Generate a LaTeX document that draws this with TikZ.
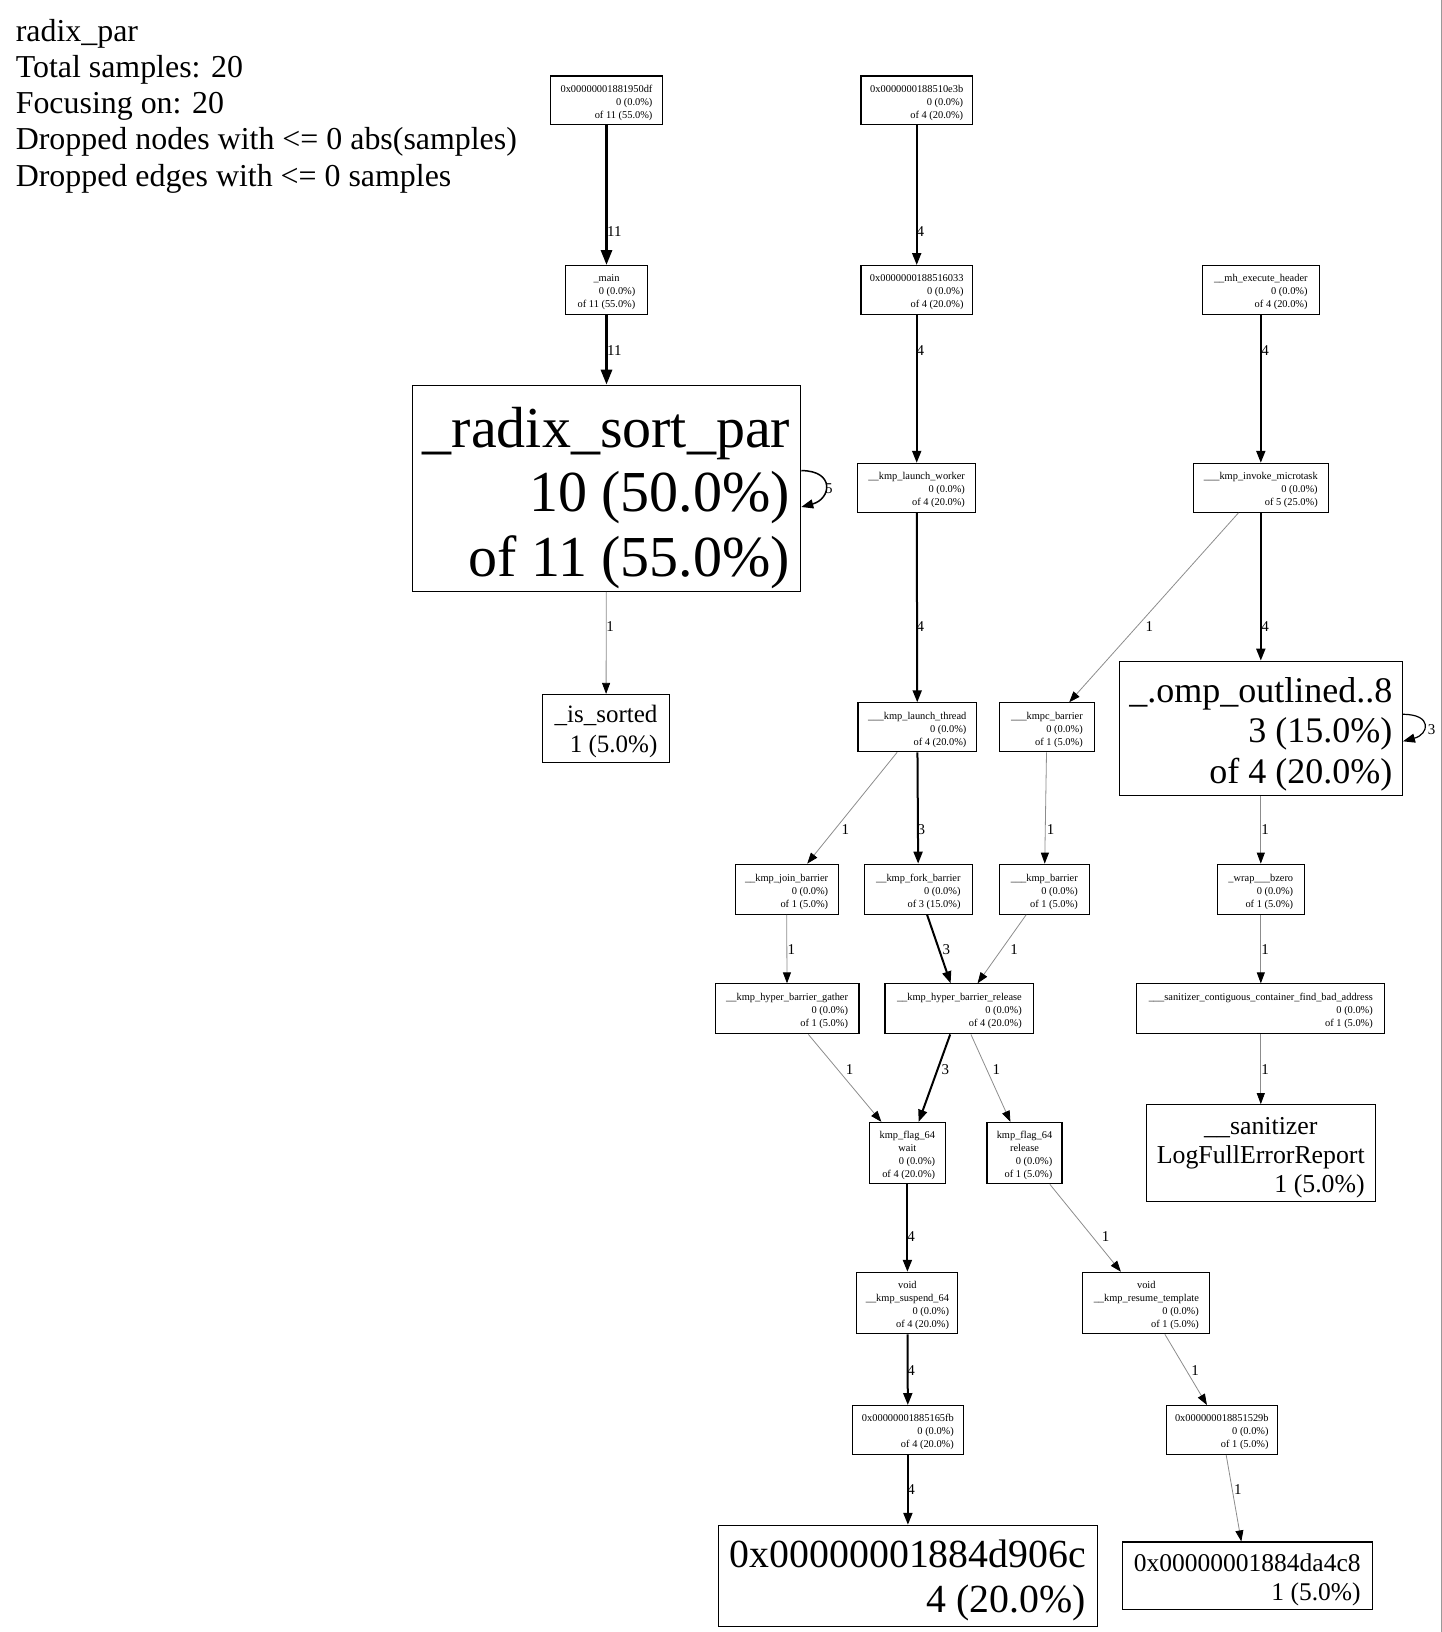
\documentclass[tikz,border=0pt]{standalone}
\usepackage{fontspec}
\setmainfont{Liberation Serif}
\usetikzlibrary{arrows.meta}

\newcommand\fsz[2]{\fontsize{#1}{#2}\selectfont}
\newcommand\nm[1]{\multicolumn{1}{@{}c@{}}{#1}}
% function label: right-aligned lines, lowered by the optional amount
\newcommand\lbl[2][4.7pt]{\raisebox{-#1}[0pt][0pt]{\begin{tabular}{@{}r@{}}#2\end{tabular}}}

\tikzset{
  fn/.style={draw, line width=1.1pt, inner sep=0pt, align=center},
  sm/.style={fn, font=\fsz{10.4}{13}},
  heavy/.style={draw=black, line width=3pt, -{Triangle[length=15pt,width=11pt]}},
  mid/.style={draw=black, line width=2pt, -{Triangle[length=12pt,width=9pt]}},
  light/.style={draw=black!45, line width=0.8pt, -{Triangle[length=11pt,width=8pt,color=black,fill=black]}},
  elab/.style={font=\fsz{15}{17}, inner sep=0pt},
  hdr/.style={font=\fsz{31.9}{36}, anchor=base west, inner sep=0pt},
}

\begin{document}
\begin{tikzpicture}[x=1pt,y=-1pt]
\useasboundingbox (0,0) rectangle (1442,1632);
\draw[black!40, line width=1pt] (1441,0) -- (1441,1632);

% legend
\node[hdr] (t1) at (15.6,42) {radix\_par};
\node[hdr] (t2) at (15.6,78) {Total samples: 20};
\node[hdr] (t3) at (15.6,114) {Focusing on: 20};
\node[hdr] (t4) at (15.6,150) {Dropped nodes with <= 0 abs(samples)};
\node[hdr] (t5) at (15.6,186) {Dropped edges with <= 0 samples};

% functions
\node[sm, minimum width=111.4pt, minimum height=48.9pt] (n1) at (606.5,100.5)
  {\lbl{0x00000001881950df\\0 (0.0\%)\\of 11 (55.0\%)}};
\node[sm, minimum width=111.4pt, minimum height=48.9pt] (n2) at (916.7,100.5)
  {\lbl{0x0000000188510e3b\\0 (0.0\%)\\of 4 (20.0\%)}};
\node[sm, minimum width=82.3pt, minimum height=48.9pt] (main) at (606.5,290)
  {\lbl{\nm{\_main}\\0 (0.0\%)\\of 11 (55.0\%)}};
\node[sm, minimum width=111.4pt, minimum height=48.9pt] (n4) at (916.7,290)
  {\lbl{0x0000000188516033\\0 (0.0\%)\\of 4 (20.0\%)}};
\node[sm, minimum width=116.6pt, minimum height=48.9pt] (mh) at (1260.8,290)
  {\lbl{\_\_mh\_execute\_header\\0 (0.0\%)\\of 4 (20.0\%)}};
\node[fn, font=\fsz{58}{64.5}, minimum width=388.4pt, minimum height=206.2pt] (radix) at (606.5,488.3)
  {\lbl[16.6pt]{\_radix\_sort\_par\\10 (50.0\%)\\of 11 (55.0\%)}};
\node[sm, minimum width=117.7pt, minimum height=48.9pt] (worker) at (916.7,487.8)
  {\lbl{\_\_kmp\_launch\_worker\\0 (0.0\%)\\of 4 (20.0\%)}};
\node[sm, minimum width=135.4pt, minimum height=48.9pt] (invoke) at (1260.8,487.8)
  {\lbl{\_\_\_kmp\_invoke\_microtask\\0 (0.0\%)\\of 5 (25.0\%)}};
\node[fn, font=\fsz{25}{30}, minimum width=127pt, minimum height=67.7pt] (sorted) at (606,728.3)
  {\lbl[9.8pt]{\_is\_sorted\\1 (5.0\%)}};
\node[sm, minimum width=118.7pt, minimum height=48.9pt] (thread) at (917.3,727.3)
  {\lbl{\_\_\_kmp\_launch\_thread\\0 (0.0\%)\\of 4 (20.0\%)}};
\node[sm, minimum width=94.7pt, minimum height=48.9pt] (kmpc) at (1046.9,727.3)
  {\lbl{\_\_\_kmpc\_barrier\\0 (0.0\%)\\of 1 (5.0\%)}};
\node[fn, font=\fsz{36}{40.6}, minimum width=283.2pt, minimum height=134.3pt] (omp) at (1260.8,728.3)
  {\lbl[12.4pt]{\_.omp\_outlined..8\\3 (15.0\%)\\of 4 (20.0\%)}};
\node[sm, minimum width=103pt, minimum height=50pt] (join) at (786.6,889.2)
  {\lbl{\_\_kmp\_join\_barrier\\0 (0.0\%)\\of 1 (5.0\%)}};
\node[sm, minimum width=108.3pt, minimum height=50pt] (fork) at (918.3,889.2)
  {\lbl{\_\_kmp\_fork\_barrier\\0 (0.0\%)\\of 3 (15.0\%)}};
\node[sm, minimum width=89.5pt, minimum height=50pt] (kbar) at (1044.3,889.2)
  {\lbl{\_\_\_kmp\_barrier\\0 (0.0\%)\\of 1 (5.0\%)}};
\node[sm, minimum width=87.5pt, minimum height=50pt] (wrap) at (1260.8,889.2)
  {\lbl{\_wrap\_\_\_bzero\\0 (0.0\%)\\of 1 (5.0\%)}};
\node[sm, minimum width=143.7pt, minimum height=50pt] (gather) at (787.1,1008.9)
  {\lbl{\_\_kmp\_hyper\_barrier\_gather\\0 (0.0\%)\\of 1 (5.0\%)}};
\node[sm, minimum width=148.9pt, minimum height=50pt] (release) at (959.4,1008.9)
  {\lbl{\_\_kmp\_hyper\_barrier\_release\\0 (0.0\%)\\of 4 (20.0\%)}};
\node[sm, minimum width=247.8pt, minimum height=50pt] (contig) at (1260.8,1008.9)
  {\lbl{\_\_\_sanitizer\_contiguous\_container\_find\_bad\_address\\0 (0.0\%)\\of 1 (5.0\%)}};
\node[sm, minimum width=76pt, minimum height=61.4pt] (flagw) at (907.4,1153.1)
  {\lbl{\nm{kmp\_flag\_64}\\\nm{wait}\\0 (0.0\%)\\of 4 (20.0\%)}};
\node[sm, minimum width=75pt, minimum height=61.4pt] (flagr) at (1024.5,1153.1)
  {\lbl{\nm{kmp\_flag\_64}\\\nm{release}\\0 (0.0\%)\\of 1 (5.0\%)}};
\node[fn, font=\fsz{25.8}{28.6}, minimum width=229pt, minimum height=96.8pt] (logrep) at (1260.8,1153.1)
  {\lbl[10.9pt]{\nm{\_\_sanitizer}\\LogFullErrorReport\\1 (5.0\%)}};
\node[sm, minimum width=101pt, minimum height=61.4pt] (suspend) at (907.4,1303)
  {\lbl{\nm{void}\\\nm{\_\_kmp\_suspend\_64}\\0 (0.0\%)\\of 4 (20.0\%)}};
\node[sm, minimum width=127pt, minimum height=61.4pt] (resume) at (1146.3,1303)
  {\lbl{\nm{void}\\\nm{\_\_kmp\_resume\_template}\\0 (0.0\%)\\of 1 (5.0\%)}};
\node[sm, minimum width=110.4pt, minimum height=48.9pt] (a65fb) at (907.9,1430)
  {\lbl{0x00000001885165fb\\0 (0.0\%)\\of 4 (20.0\%)}};
\node[sm, minimum width=111.4pt, minimum height=48.9pt] (a529b) at (1221.8,1430)
  {\lbl{0x000000018851529b\\0 (0.0\%)\\of 1 (5.0\%)}};
\node[fn, font=\fsz{39.8}{44.8}, minimum width=379pt, minimum height=101pt] (d906c) at (907.9,1575.8)
  {\lbl[11.4pt]{0x00000001884d906c\\4 (20.0\%)}};
\node[fn, font=\fsz{25.5}{29.2}, minimum width=249.9pt, minimum height=67.7pt] (da4c8) at (1247.3,1575.8)
  {\lbl[10.4pt]{0x00000001884da4c8\\1 (5.0\%)}};

% call edges
\draw[heavy] (n1) -- (main);
\draw[heavy] (main) -- (radix);
\draw[mid] (n2) -- (n4);
\draw[mid] (n4) -- (worker);
\draw[mid] (mh) -- (invoke);
\draw[light] (radix) -- (sorted);
\draw[mid] (worker) -- (thread);
\draw[light] (invoke) -- (kmpc);
\draw[mid] (invoke) -- (omp);
\draw[light] (thread) -- (join);
\draw[mid] (thread) -- (fork);
\draw[light] (kmpc) -- (kbar);
\draw[light] (omp) -- (wrap);
\draw[light] (join) -- (gather);
\draw[mid] (fork) -- (release);
\draw[light] (kbar) -- (release);
\draw[light] (wrap) -- (contig);
\draw[light] (gather) -- (flagw);
\draw[mid] (release) -- (flagw);
\draw[light] (release) -- (flagr);
\draw[light] (contig) -- (logrep);
\draw[mid] (flagw) -- (suspend);
\draw[light] (flagr) -- (resume);
\draw[mid] (suspend) -- (a65fb);
\draw[light] (resume) -- (a529b);
\draw[mid] (a65fb) -- (d906c);
\draw[light] (a529b) -- (da4c8);

% recursive calls
\draw[mid, line width=1.5pt] ([yshift=17.7pt]radix.east) .. controls +(34,0) and +(30,-8) .. ([yshift=-18.7pt]radix.east);
\draw[mid, line width=1.2pt] ([yshift=14pt]omp.east) .. controls +(30,0) and +(26,-7) .. ([yshift=-13pt]omp.east);

% edge weights
\node[elab] (w1) at (614.3,231.1) {11};
\node[elab] (w2) at (614.3,350.9) {11};
\node[elab] (w3) at (920.4,231.1) {4};
\node[elab] (w4) at (920.4,350.9) {4};
\node[elab] (w5) at (1265,350.9) {4};
\node[elab] (w6) at (828.8,488.3) {5};
\node[elab] (w7) at (610.1,626.8) {1};
\node[elab] (w8) at (920.4,626.8) {4};
\node[elab] (w9) at (1149.4,626.8) {1};
\node[elab] (w10) at (1265,626.8) {4};
\node[elab] (w11) at (1431.6,729.9) {3};
\node[elab] (w12) at (845.4,829.8) {1};
\node[elab] (w13) at (921.4,829.8) {3};
\node[elab] (w14) at (1050.5,829.8) {1};
\node[elab] (w15) at (1265,829.8) {1};
\node[elab] (w16) at (791.3,949.5) {1};
\node[elab] (w17) at (946.4,949.5) {3};
\node[elab] (w18) at (1014.1,949.5) {1};
\node[elab] (w19) at (1265,949.5) {1};
\node[elab] (w20) at (849.6,1069.3) {1};
\node[elab] (w21) at (945.4,1069.3) {3};
\node[elab] (w22) at (996.4,1069.3) {1};
\node[elab] (w23) at (1265,1069.3) {1};
\node[elab] (w24) at (911,1236.9) {4};
\node[elab] (w25) at (1105.7,1236.9) {1};
\node[elab] (w26) at (911,1370.2) {4};
\node[elab] (w27) at (1195.2,1370.2) {1};
\node[elab] (w28) at (911,1489.9) {4};
\node[elab] (w29) at (1237.9,1489.9) {1};
\end{tikzpicture}
\end{document}
